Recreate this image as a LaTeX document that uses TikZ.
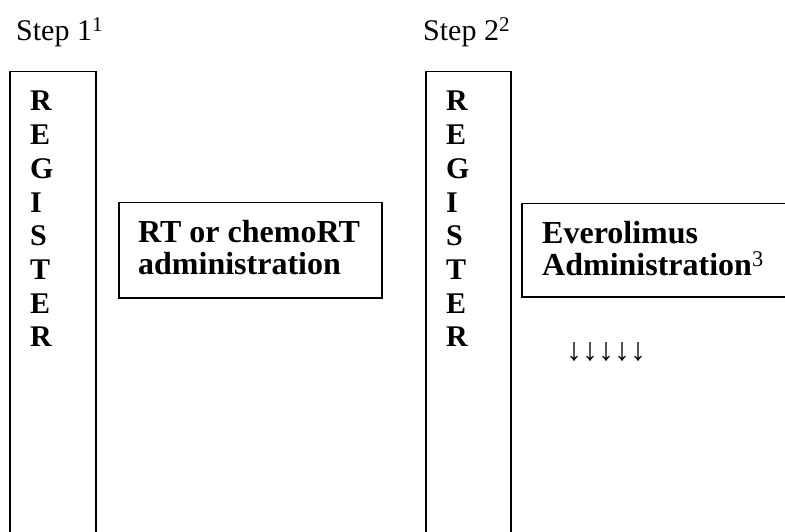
\documentclass[tikz,border=0pt]{standalone}
\usepackage{fontspec}
\setmainfont{Liberation Serif}
\usetikzlibrary{positioning}

\tikzset{
  frame/.style={draw,line width=1.5pt,inner sep=0pt,anchor=north west},
  letter/.style={inner sep=0pt,anchor=base west,font=\fontsize{30}{34}\selectfont\bfseries},
  boxtext/.style={inner sep=0pt,align=left,font=\fontsize{32}{32.5}\selectfont\bfseries},
  steplabel/.style={inner sep=0pt,anchor=base west,font=\fontsize{30}{34}\selectfont},
}

\begin{document}
\begin{tikzpicture}[x=1pt,y=-1pt]
	\useasboundingbox (0,0) rectangle (785,532);
	% Rahmen, unten und rechts abgeschnitten
	\begin{scope}
		\clip (0,0) rectangle (785,532);
		\node[frame,minimum width=86pt,minimum height=500pt] (reg1) at (9,71) {};
		\node[frame,minimum width=85pt,minimum height=500pt] (reg2) at (425,71) {};
		\node[frame,minimum width=263pt,minimum height=95pt] (rt) at (118,202) {};
		\node[frame,minimum width=300pt,minimum height=93pt] (evero) at (521,203) {};
	\end{scope}
	% Schritte
	\node[steplabel] (step1) at (16,41) {Step 1\textsuperscript{1}};
	\node[steplabel] (step2) at (423,41) {Step 2\textsuperscript{2}};
	% REGISTER senkrecht
	\foreach \ch [count=\i from 0] in {R,E,G,I,S,T,E,R} {
		\node[letter] (ra\i) at (30,111+33.7*\i) {\ch};
		\node[letter] (rb\i) at (446,111+33.7*\i) {\ch};
	}
	% Behandlung
	\node[boxtext,anchor=north west,below right=18pt and 20pt of rt.north west] (rttext) {RT or chemoRT\\administration};
	\node[boxtext,anchor=north west,below right=18pt and 21pt of evero.north west] (evtext) {Everolimus\\Administration\textsuperscript{\mdseries 3}};
	\node[steplabel,font=\fontsize{32}{34}\selectfont] (drops) at (566,360) {↓↓↓↓↓};
\end{tikzpicture}
\end{document}
